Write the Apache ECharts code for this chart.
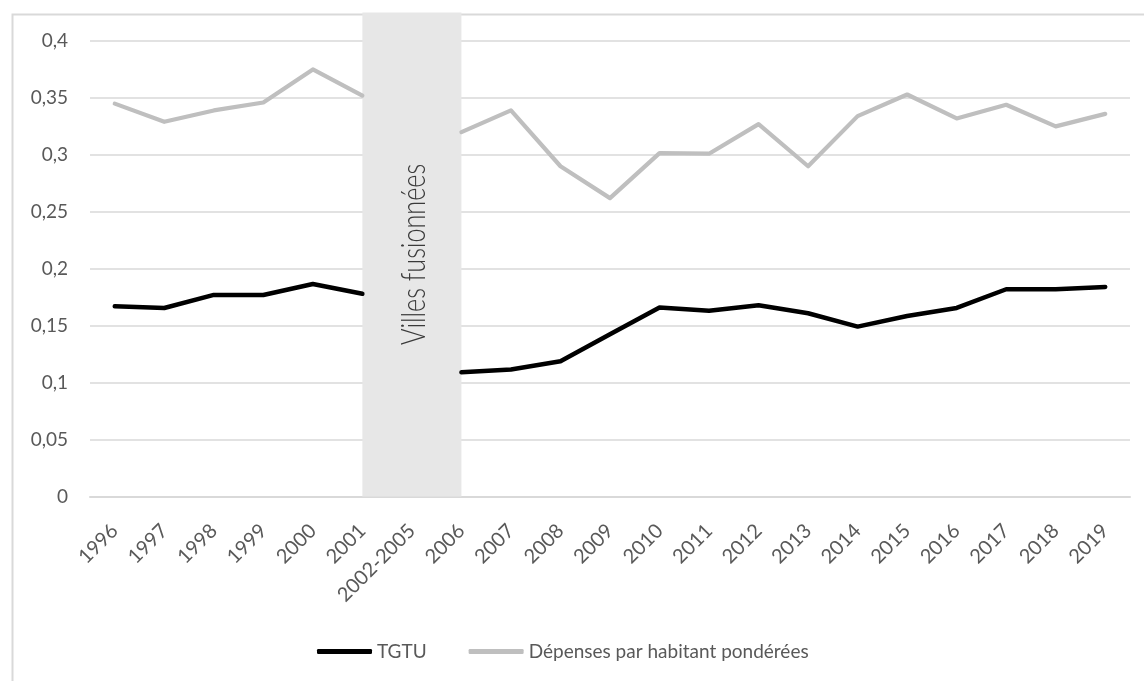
<!DOCTYPE html>
<html>
<head>
<meta charset="utf-8">
<script src="https://cdn.jsdelivr.net/npm/echarts@6/dist/echarts.min.js"></script>
<style>html,body{margin:0;padding:0;background:#fff;}#c{width:1144px;height:681px;}</style>
</head>
<body>
<div id="c"></div>
<script>
const categories = ['1996','1997','1998','1999','2000','2001','2002-2005','2006','2007','2008','2009','2010','2011','2012','2013','2014','2015','2016','2017','2018','2019'];
const tgtu = [0.167, 0.1655, 0.177, 0.177, 0.1866, 0.178, null, 0.109, 0.1116, 0.1187, 0.1424, 0.1659, 0.1632, 0.1679, 0.1609, 0.1492, 0.1585, 0.1656, 0.182, 0.182, 0.184];
const depenses = [0.345, 0.329, 0.339, 0.346, 0.375, 0.352, null, 0.320, 0.339, 0.290, 0.262, 0.3015, 0.301, 0.327, 0.290, 0.334, 0.353, 0.332, 0.344, 0.325, 0.336];
const yTicks = [0, 0.05, 0.1, 0.15, 0.2, 0.25, 0.3, 0.35, 0.4];
const yMax = 0.425;
const bandStart = '2001';
const bandEnd = '2006';
const bandLabel = 'Villes fusionnées';
const seriesNames = ['TGTU', 'Dépenses par habitant pondérées'];

const chart = echarts.init(document.getElementById('c'), null, {renderer: 'canvas'});
const font = 'Lato, "Open Sans", sans-serif';
chart.setOption({
  animation: false,
  backgroundColor: '#ffffff',
  grid: {left: 90, right: 14, top: 12.5, bottom: 184.5, containLabel: false},
  legend: {
    data: [
      {name: seriesNames[0], icon: 'roundRect', itemStyle: {color: '#000000'}},
      {name: seriesNames[1], icon: 'roundRect', itemStyle: {color: '#BFBFBF'}}
    ],
    top: 637, left: 312,
    itemWidth: 55, itemHeight: 5, itemGap: 42,
    textStyle: {color: '#595959', fontSize: 19, fontFamily: font}
  },
  xAxis: {
    type: 'category', data: categories, boundaryGap: true,
    axisLine: {show: true, lineStyle: {color: '#D9D9D9', width: 2}},
    axisTick: {show: false},
    axisLabel: {rotate: 45, color: '#595959', fontSize: 20, fontFamily: font, margin: 31, padding: [12, 0, 0, 0], interval: 0}
  },
  yAxis: {
    type: 'value', min: 0, max: yMax, interval: 0.05,
    axisLine: {show: false}, axisTick: {show: false},
    splitLine: {show: true, showMaxLine: false, lineStyle: {color: '#D9D9D9', width: 1.6}},
    axisLabel: {
      color: '#595959', fontSize: 19, fontFamily: font, margin: 22, showMaxLabel: false,
      formatter: function (v) {
        const r = +v.toFixed(3);
        return yTicks.indexOf(r) >= 0 ? String(r).replace('.', ',') : '';
      }
    }
  },
  series: [
    {
      name: seriesNames[0], type: 'line', data: tgtu, symbol: 'none', connectNulls: false, z: 3,
      lineStyle: {color: '#000000', width: 4.5, cap: 'round', join: 'round'},
      itemStyle: {color: '#000000'}
    },
    {
      name: seriesNames[1], type: 'line', data: depenses, symbol: 'none', connectNulls: false, z: 2,
      lineStyle: {color: '#BFBFBF', width: 4.2, cap: 'round', join: 'round'},
      itemStyle: {color: '#BFBFBF'}
    },
    {
      name: 'band', type: 'line', data: [], z: 10, silent: true,
      markArea: {
        silent: true,
        itemStyle: {color: '#E7E7E7', opacity: 1},
        data: [[{xAxis: bandStart}, {xAxis: bandEnd}]]
      }
    }
  ]
});

const pA = chart.convertToPixel({xAxisIndex: 0, yAxisIndex: 0}, [bandStart, 0]);
const pB = chart.convertToPixel({xAxisIndex: 0, yAxisIndex: 0}, [bandEnd, yMax]);
const cx = (pA[0] + pB[0]) / 2 + 2;
const cy = (pA[1] + pB[1]) / 2;
chart.setOption({
  graphic: [
    {
      id: 'frame', type: 'rect', left: 10, top: 12, z: -10, silent: true,
      shape: {width: 1200, height: 700},
      style: {fill: 'none', stroke: '#D9D9D9', lineWidth: 2}
    },
    {
      id: 'bandText', type: 'text', x: cx, y: cy, rotation: Math.PI / 2, scaleX: 0.74, z: 100, silent: true,
      style: {
        text: bandLabel, fill: '#3A3A3A', fontSize: 34, fontWeight: 300,
        fontFamily: font, align: 'center', verticalAlign: 'middle'
      }
    }
  ]
});
</script>
</body>
</html>
